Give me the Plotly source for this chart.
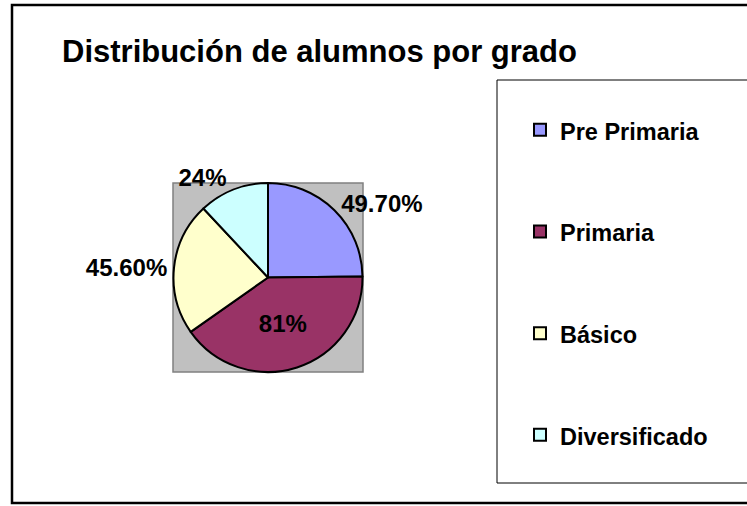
import plotly.graph_objects as go

# ---- data ----
categories = ["Pre Primaria", "Primaria", "Básico", "Diversificado"]
values = [49.7, 81, 45.6, 24]
value_labels = ["49.70%", "81%", "45.60%", "24%"]
colors = ["#9999FF", "#993366", "#FFFFCC", "#CCFFFF"]
label_pos = ["outside", "inside", "outside", "outside"]

W, H = 747, 506
FONT = "Arial, Liberation Sans, sans-serif"

def px(x):
    return x / W

def py(y):
    return 1 - y / H

legend_text = [
    "\u00a0<br><span style='font-size:23.5px'>%s</span><br>\u00a0" % c for c in categories
]

fig = go.Figure()
fig.add_trace(go.Pie(
    labels=legend_text,
    values=values,
    text=value_labels,
    textinfo="text",
    textposition=label_pos,
    insidetextorientation="horizontal",
    sort=False,
    direction="clockwise",
    rotation=0,
    marker=dict(colors=colors, line=dict(color="black", width=2)),
    textfont=dict(family=FONT, size=24, color="black", weight="bold"),
    domain=dict(x=[px(173), px(363)], y=[py(372), py(183)]),
    hoverinfo="skip",
))

shapes = [
    # outer chart frame
    dict(type="rect", xref="paper", yref="paper", x0=px(12), x1=1.05, y0=py(503), y1=py(5),
         line=dict(color="black", width=2.5), fillcolor="white", layer="below"),
    # plot area behind the pie
    dict(type="rect", xref="paper", yref="paper", x0=px(173), x1=px(363), y0=py(372), y1=py(183),
         line=dict(color="#808080", width=1.5), fillcolor="#C0C0C0", layer="below"),
    # legend box
    dict(type="rect", xref="paper", yref="paper", x0=px(497), x1=1.05, y0=py(483), y1=py(80),
         line=dict(color="black", width=1), fillcolor="white", layer="below"),
]

fig.update_layout(
    width=W, height=H,
    margin=dict(l=0, r=0, t=0, b=0),
    paper_bgcolor="white",
    plot_bgcolor="white",
    shapes=shapes,
    title=dict(text="Distribución de alumnos por grado", x=px(62), xanchor="left",
               xref="paper", yref="paper", y=py(51), yanchor="middle",
               font=dict(family=FONT, size=31, color="black", weight="bold")),
    showlegend=True,
    legend=dict(x=px(520), y=py(74), xanchor="left", yanchor="top",
                bgcolor="rgba(0,0,0,0)", borderwidth=0,
                font=dict(family=FONT, size=25.3, color="black", weight="bold"),
                valign="middle", itemclick=False, itemdoubleclick=False),
)

fig.write_html("out.html", config={"displayModeBar": False},
               post_script="document.body.style.margin='0';")
